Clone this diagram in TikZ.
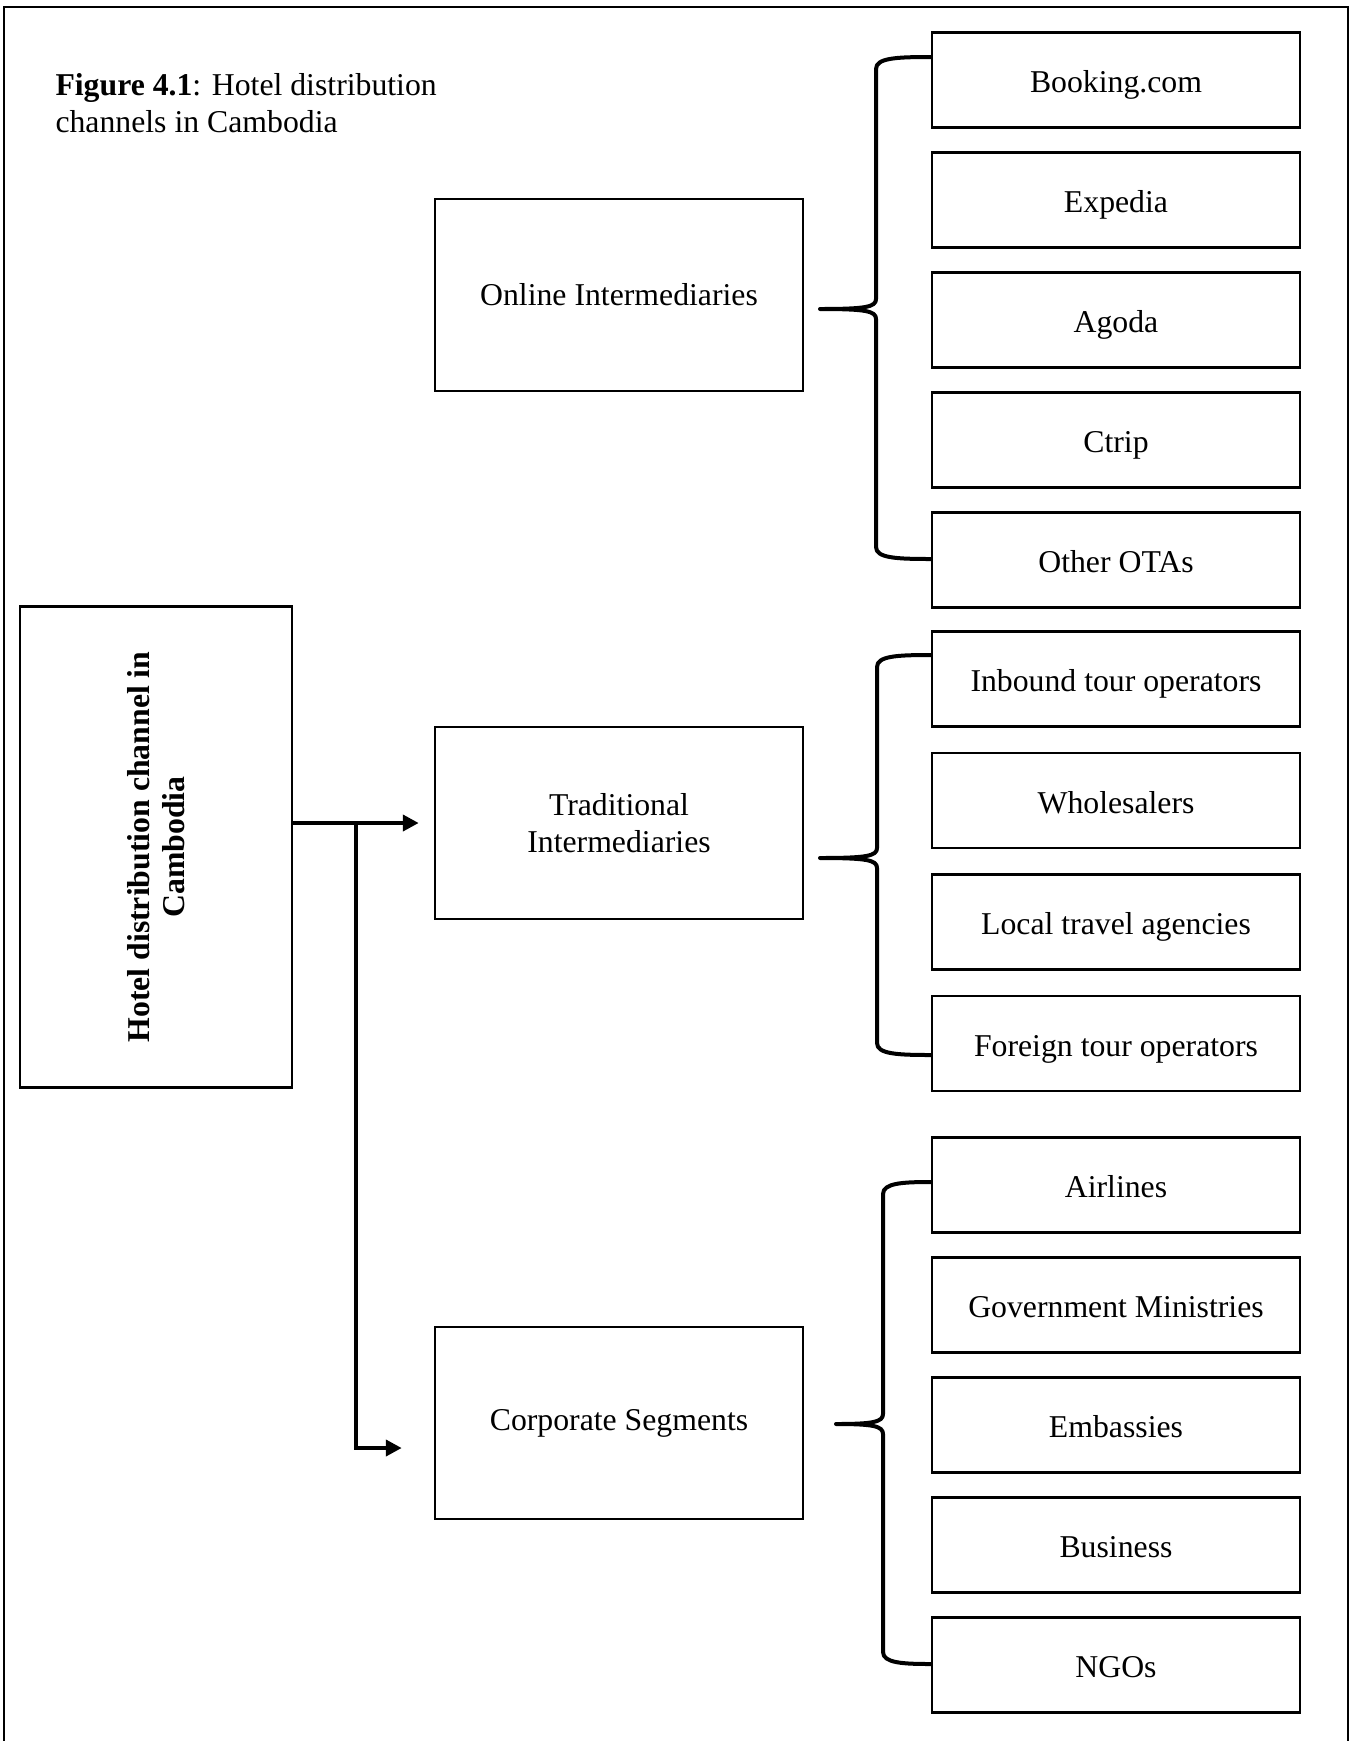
\documentclass[tikz,border=0pt]{standalone}
\usepackage{fontspec}
\setmainfont{Liberation Serif}
\usetikzlibrary{arrows.meta,positioning}

% curly brace from two end points on the channel boxes to a tip on the left
\newcommand{\chbrace}[6]{%
  \draw[brace] (#1,#4) .. controls (#2+20,#4) and (#2,#4+1) .. (#2,#4+12)
    -- (#2,#5-10) .. controls (#2,#5-2) and (#2-10,#5) .. (#3,#5)
    .. controls (#2-10,#5) and (#2,#5+2) .. (#2,#5+10)
    -- (#2,#6-12) .. controls (#2,#6-1) and (#2+20,#6) .. (#1,#6);}

\tikzset{
  every node/.style={font=\fontsize{12.7}{14.6}\selectfont},
  plainbox/.style={draw, line width=1pt, minimum width=147.2pt, inner sep=2pt, align=center},
  chanbox/.style={plainbox, minimum height=38pt, text height=10pt, text depth=0pt},
  groupbox/.style={plainbox, minimum height=76.8pt},
  mainbox/.style={plainbox, minimum width=108.8pt, minimum height=192.4pt, font=\fontsize{12.7}{14.2}\selectfont\bfseries},
  flow/.style={line width=1.6pt, -{Triangle[length=6.4pt,width=6.4pt]}},
  brace/.style={line width=1.6pt, line join=round},
}

\begin{document}
\begin{tikzpicture}[x=0.4pt, y=-0.4pt, node distance=9pt]
    	\useasboundingbox (0,0) rectangle (1356,1741);
    	\draw[line width=1pt] (4,1741) -- (4,7) -- (1348,7) -- (1348,1741);

    	\node[anchor=north west, align=left, inner sep=0pt] (title) at (55,73)
    		{\textbf{Figure 4.1}: Hotel distribution\\channels in Cambodia};

    	\node[mainbox] (hotel) at (156,847)
    		{\hspace{3pt}\rotatebox{90}{\begin{tabular}{@{}c@{}}Hotel distribution channel in\\Cambodia\end{tabular}}};

    	\node[groupbox] (online) at (619,295) {Online Intermediaries};
    	\node[groupbox] (trad) at (619,823) {Traditional\\Intermediaries};
    	\node[groupbox] (corp) at (619,1423) {Corporate Segments};

    	% online channels
    	\node[chanbox] (booking) at (1116,80) {Booking.com};
    	\node[chanbox, below=of booking] (expedia) {Expedia};
    	\node[chanbox, below=of expedia] (agoda) {Agoda};
    	\node[chanbox, below=of agoda] (ctrip) {Ctrip};
    	\node[chanbox, below=of ctrip] (otas) {Other OTAs};

    	% traditional channels
    	\node[chanbox] (inbound) at (1116,679) {Inbound tour operators};
    	\node[chanbox, below=9.6pt of inbound] (whole) {Wholesalers};
    	\node[chanbox, below=9.6pt of whole] (local) {Local travel agencies};
    	\node[chanbox, below=9.6pt of local] (foreign) {Foreign tour operators};

    	% corporate channels
    	\node[chanbox] (airlines) at (1116,1185) {Airlines};
    	\node[chanbox, below=of airlines] (gov) {Government Ministries};
    	\node[chanbox, below=of gov] (embassy) {Embassies};
    	\node[chanbox, below=of embassy] (business) {Business};
    	\node[chanbox, below=of business] (ngos) {NGOs};

    	\coordinate (split) at (356,823);
    	\coordinate (down) at (356,1448);
    	\draw[flow] (hotel.east |- split) -- ([xshift=-6pt]trad.west |- split);
    	\draw[flow] (split) |- ([xshift=-12.8pt]corp.west |- down);

    	\chbrace{931}{876}{820}{57}{309}{559}
    	\chbrace{931}{877}{820}{655}{858}{1055}
    	\chbrace{931}{883}{836}{1182}{1424}{1664}
    \end{tikzpicture}
\end{document}
